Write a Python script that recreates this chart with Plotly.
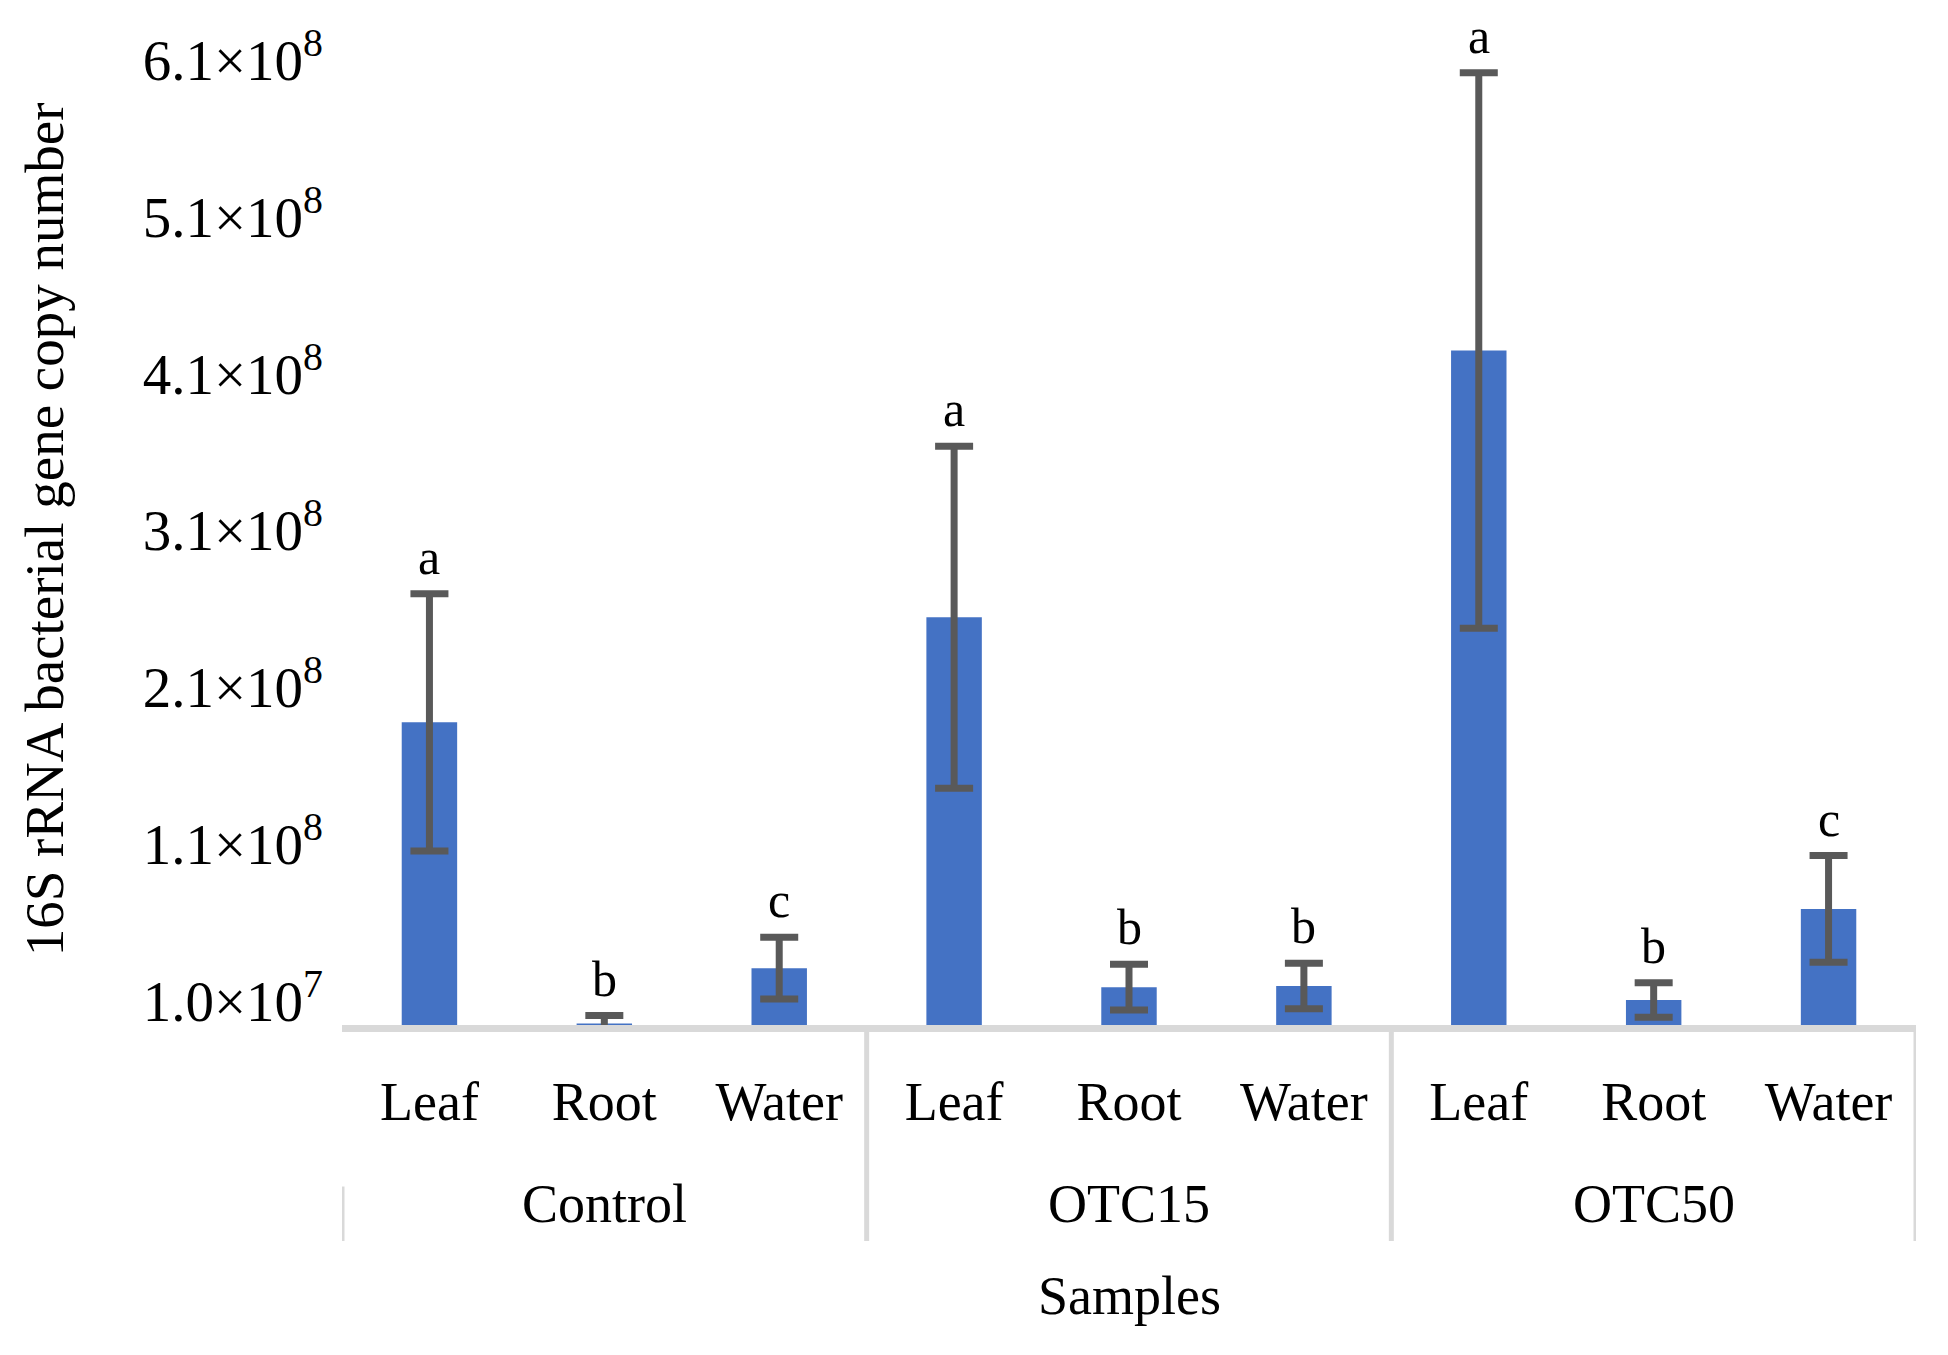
import plotly.graph_objects as go

# data
groups = ["Control", "OTC15", "OTC50"]
samples = ["Leaf", "Root", "Water"]
copy_number = [2.03e8, 1.1e7, 4.62e7,
               2.70e8, 3.41e7, 3.48e7,
               4.40e8, 2.59e7, 8.4e7]
copy_err = [0.82e8, 0.5e7, 1.97e7,
            1.09e8, 1.46e7, 1.45e7,
            1.77e8, 1.1e7, 3.4e7]
letters = ["a", "b", "c",
           "a", "b", "b",
           "a", "b", "c"]
y_ticks = [1e7, 1.1e8, 2.1e8, 3.1e8, 4.1e8, 5.1e8, 6.1e8]
y_ticktext = ["1.0×10<sup>7</sup>", "1.1×10<sup>8</sup>", "2.1×10<sup>8</sup>",
              "3.1×10<sup>8</sup>", "4.1×10<sup>8</sup>", "5.1×10<sup>8</sup>",
              "6.1×10<sup>8</sup>"]

FONT = "Liberation Serif"
GREY = "#D9D9D9"

xpos = list(range(len(groups) * len(samples)))
xlabels = [s for g in groups for s in samples]

fig = go.Figure()
fig.add_trace(go.Bar(
    x=xpos, y=copy_number,
    marker=dict(color="#4472C4", line=dict(width=0)),
    error_y=dict(type="data", array=copy_err, visible=True,
                 color="#595959", thickness=7, width=19),
    showlegend=False,
))

# significance letters above the error bars
for xi, v, e, lt in zip(xpos, copy_number, copy_err, letters):
    fig.add_annotation(x=xi, y=v + e, text=lt, showarrow=False,
                       yanchor="bottom", yshift=7,
                       font=dict(family=FONT, size=50, color="black"))

# group labels under the sample labels
for gi, g in enumerate(groups):
    fig.add_annotation(x=gi * 3 + 1, y=-0.1835, xref="x", yref="paper",
                       text=g, showarrow=False, yanchor="middle",
                       font=dict(family=FONT, size=54, color="black"))

# divider lines of the grouped category axis
for xd in [2.5, 5.5, 8.5]:
    fig.add_shape(type="line", xref="x", yref="paper", x0=xd, x1=xd,
                  y0=-0.007, y1=-0.222, line=dict(color=GREY, width=5))
fig.add_shape(type="line", xref="x", yref="paper", x0=-0.5, x1=-0.5,
              y0=-0.166, y1=-0.222, line=dict(color=GREY, width=5))

fig.add_annotation(x=4, y=-0.279, xref="x", yref="paper", text="Samples",
                   showarrow=False, yanchor="middle",
                   font=dict(family=FONT, size=54, color="black"))
fig.add_annotation(x=-0.189, y=0.509, xref="paper", yref="paper",
                   text="16S rRNA bacterial gene copy number", textangle=-90,
                   showarrow=False, xanchor="center", yanchor="middle",
                   font=dict(family=FONT, size=55, color="black"))

# page body adds 8px offset, margins compensate
fig.update_layout(
    width=1948, height=1355,
    margin=dict(l=334, r=40, t=32, b=338),
    paper_bgcolor="white", plot_bgcolor="white",
    bargap=0.683,
    font=dict(family=FONT, color="black"),
)
fig.update_xaxes(
    range=[-0.5, 8.5], tickvals=xpos, ticktext=xlabels,
    showline=True, linecolor=GREY, linewidth=7,
    showgrid=False, zeroline=False, ticks="",
    ticklabelstandoff=23,
    tickfont=dict(family=FONT, size=54, color="black"),
)
fig.update_yaxes(
    range=[1e7, 6.303e8], tickvals=y_ticks, ticktext=y_ticktext,
    showline=False, showgrid=False, zeroline=False, ticks="",
    ticklabelshift=-24, ticklabelstandoff=18,
    tickfont=dict(family=FONT, size=57, color="black"),
)

fig.write_html("out.html")
